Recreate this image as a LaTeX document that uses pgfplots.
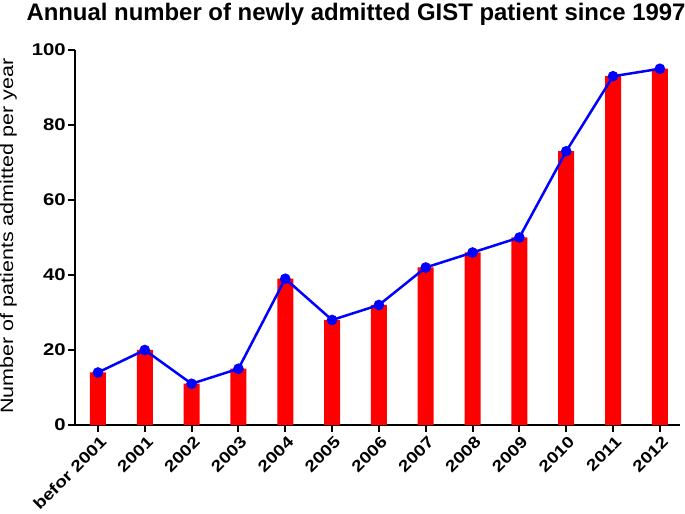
\documentclass[border=0pt]{standalone}
\usepackage{pgfplots}
\pgfplotsset{compat=1.18}
\usepackage{fontspec}
\setmainfont{Liberation Sans}
\newfontfamily\widefont[FakeStretch=1.2]{Liberation Sans}
\begin{document}
\begin{tikzpicture}
\useasboundingbox (0,0) rectangle (685bp,514bp);
\begin{axis}[
 at={(75bp,89bp)}, anchor=south west,
 scale only axis, width=605bp, height=375bp,
 xmin=-0.49, xmax=12.43, ymin=0, ymax=100,
 axis x line*=bottom, axis y line*=left,
 axis line style={-, line width=2.5bp},
 tick align=outside, major tick length=7bp,
 tick style={line width=2bp, black},
 xtick={0,...,12},
 xticklabels={befor 2001,2001,2002,2003,2004,2005,2006,2007,2008,2009,2010,2011,2012},
 ytick={0,20,40,60,80,100},
 x tick label style={rotate=45, anchor=north east, font=\widefont\bfseries\fontsize{16}{16}\selectfont, inner sep=1bp, yshift=-2bp},
 y tick label style={font=\widefont\bfseries\fontsize{17}{17}\selectfont, inner sep=2bp},
 /pgf/number format/assume math mode=true,
 ylabel={Number of patients admitted per year},
 ylabel style={font=\widefont\fontsize{18}{18}\selectfont, at={(axis description cs:-0.11,0.503)}, anchor=center},
 clip=false,
]
\addplot[ybar, bar width=16bp, fill=red, draw=none, bar shift=0bp] coordinates {
(0,14) (1,20) (2,11) (3,15) (4,39) (5,28) (6,32) (7,42) (8,46) (9,50) (10,73) (11,93) (12,95)};
\addplot[blue, line width=2.5bp, mark=*, mark size=4bp, mark options={fill=blue, draw=blue}] coordinates {
(0,14) (1,20) (2,11) (3,15) (4,39) (5,28) (6,32) (7,42) (8,46) (9,50) (10,73) (11,93) (12,95)};
\end{axis}
\node[font=\bfseries\fontsize{24}{24}\selectfont, anchor=north, inner sep=0pt] at (356bp,511bp) {Annual number of newly admitted GIST patient since 1997};
\end{tikzpicture}
\end{document}
